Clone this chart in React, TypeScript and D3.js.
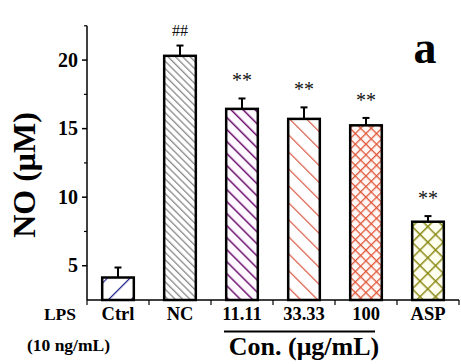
import React from "react";
import * as d3 from "d3";

const categories = ["Ctrl", "NC", "11.11", "33.33", "100", "ASP"];
const means = [4.14, 20.31, 16.44, 15.71, 15.24, 8.21];
const errors = [0.73, 0.75, 0.76, 0.84, 0.54, 0.41];
const marks = ["", "##", "**", "**", "**", "**"];
const yTicks = [5, 10, 15, 20];
const yMinor = [7.5, 12.5, 17.5, 22.5];

const patterns = [
  { id: "pCtrl", color: "#23238f", spacing: 16, angle: 45, cross: false, fill: "#ffffff", sw: 1.2 },
  { id: "pNC", color: "#8a8a8a", spacing: 5.2, angle: -45, cross: false, fill: "#ffffff", sw: 1.3 },
  { id: "p11", color: "#6e1170", spacing: 8.5, angle: -45, cross: false, fill: "#fffaff", sw: 1.5 },
  { id: "p33", color: "#d9533f", spacing: 12, angle: -45, cross: false, fill: "#ffffff", sw: 1.2 },
  { id: "p100", color: "#e0583a", spacing: 7.5, angle: 45, cross: true, fill: "#fff8f6", sw: 1.3 },
  { id: "pASP", color: "#8a8a14", spacing: 11, angle: 45, cross: true, fill: "#fffff0", sw: 1.5 },
];

const FONT = "'Liberation Serif', 'Times New Roman', serif";

export default function App() {
  const W = 461, H = 364;
  const x = d3.scaleBand<string>().domain(categories).range([87, 459]).paddingInner(0.49).paddingOuter(0.245);
  const y = d3.scaleLinear().domain([2.5, 22.5]).range([300, 25.8]);
  const step = x.step();
  const x0 = 87;
  const bw = x.bandwidth();
  const boundaries = d3.range(categories.length + 1).map((i) => x0 + i * step);
  return (
    <svg width={W} height={H} style={{ position: "absolute", left: 0, top: 0, background: "#fff" }}>
      <defs>
        {patterns.map((p) => (
          <pattern key={p.id} id={p.id} patternUnits="userSpaceOnUse" width={p.spacing} height={p.spacing}
            patternTransform={`rotate(${p.angle})`}>
            <rect width={p.spacing} height={p.spacing} fill={p.fill} />
            <line x1={0} y1={0} x2={0} y2={p.spacing} stroke={p.color} strokeWidth={p.sw * 2} />
            {p.cross && <line x1={0} y1={0} x2={p.spacing} y2={0} stroke={p.color} strokeWidth={p.sw * 2} />}
          </pattern>
        ))}
      </defs>
      <rect width={W} height={H} fill="#fff" />
      {categories.map((c, i) => {
        const bx = x(c)!;
        const top = y(means[i]);
        const et = y(means[i] + errors[i]);
        const cx = bx + bw / 2;
        return (
          <g key={c}>
            <line x1={cx} x2={cx} y1={top} y2={et} stroke="#000" strokeWidth={2} />
            <line x1={cx - 3.5} x2={cx + 3.5} y1={et} y2={et} stroke="#000" strokeWidth={2} />
            <rect x={bx} y={top} width={bw} height={y(2.5) - top} fill={`url(#${patterns[i].id})`} stroke="#000" strokeWidth={2.5} />
            {marks[i] && (
              <text x={cx} y={et - (marks[i] === "##" ? 10 : 11)} textAnchor="middle" fontFamily={FONT}
                fontSize={marks[i] === "##" ? 16 : 20} fill="#111">{marks[i]}</text>
            )}
          </g>
        );
      })}
      {/* axes */}
      <line x1={87} x2={87} y1={y(22.5)} y2={300} stroke="#000" strokeWidth={1.5} />
      <line x1={87} x2={459} y1={300} y2={300} stroke="#000" strokeWidth={1.5} />
      {yTicks.map((t) => (
        <g key={t}>
          <line x1={82} x2={87} y1={y(t)} y2={y(t)} stroke="#000" strokeWidth={1.5} />
          <text x={78} y={y(t) + 6.5} textAnchor="end" fontFamily={FONT} fontWeight="bold" fontSize={20}>{t}</text>
        </g>
      ))}
      {yMinor.map((t) => (
        <line key={t} x1={84} x2={87} y1={y(t)} y2={y(t)} stroke="#000" strokeWidth={1.2} />
      ))}
      {boundaries.map((b, i) => (
        <line key={i} x1={b} x2={b} y1={300} y2={305} stroke="#000" strokeWidth={1.2} />
      ))}
      {categories.map((c) => (
        <text key={c} x={x(c)! + bw / 2} y={320} textAnchor="middle" fontFamily={FONT} fontWeight="bold" fontSize={18.5}>{c}</text>
      ))}
      <text x={60} y={320} textAnchor="middle" fontFamily={FONT} fontWeight="bold" fontSize={17.5}>LPS</text>
      <text x={68.5} y={351} textAnchor="middle" fontFamily={FONT} fontWeight="bold" fontSize={17.5}>(10 ng/mL)</text>
      <line x1={224} x2={375} y1={331.5} y2={331.5} stroke="#000" strokeWidth={2} />
      <text x={304} y={355} textAnchor="middle" fontFamily={FONT} fontWeight="bold" fontSize={26}>Con. (μg/mL)</text>
      <text transform={`translate(35,175) rotate(-90)`} textAnchor="middle" fontFamily={FONT} fontWeight="bold" fontSize={32}>NO (μM)</text>
      <text x={425} y={63} textAnchor="middle" fontFamily={FONT} fontWeight="bold" fontSize={46}>a</text>
    </svg>
  );
}
